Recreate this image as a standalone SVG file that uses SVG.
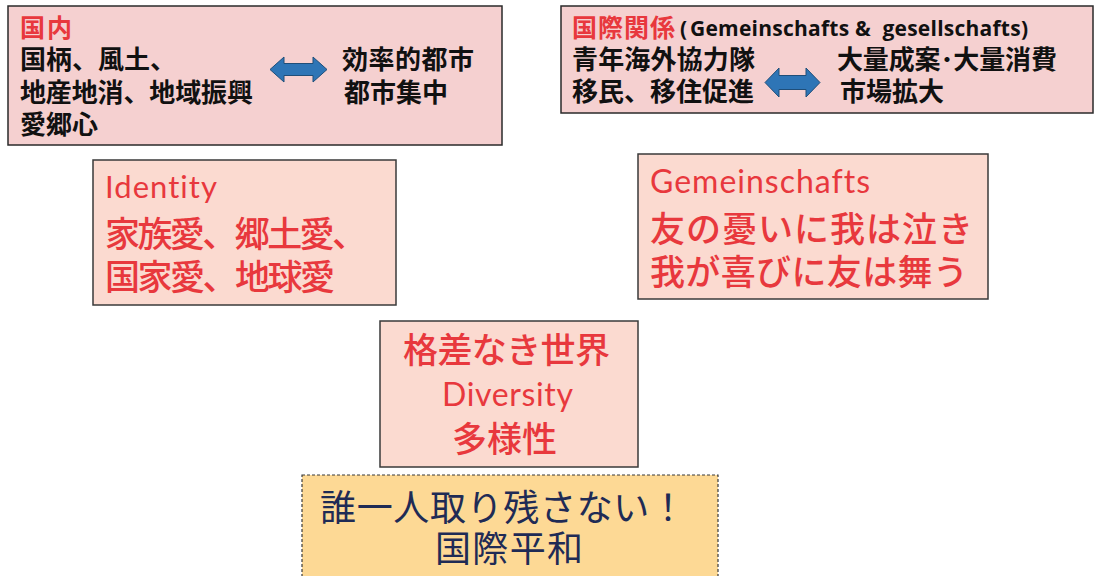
<svg xmlns="http://www.w3.org/2000/svg" width="1095" height="576" viewBox="0 0 1095 576">
<style>
.pink{fill:#f5d0d0;stroke:#2a2a2a;stroke-width:1.5}
.peach{fill:#fbdad0;stroke:#3a3a3a;stroke-width:1.5}
.gold{fill:#fdd995;stroke:#3a3a3a;stroke-width:1.2;stroke-dasharray:3 2}
.jb{font-family:"Noto Sans CJK JP","Noto Sans",sans-serif;font-weight:700;font-size:26px;fill:#111}
.rb{font-family:"Noto Sans CJK JP","Noto Sans",sans-serif;font-weight:700;font-size:25px;fill:#e8383d}
.eb{font-family:"Open Sans","Noto Sans",sans-serif;font-weight:700;font-size:21px;fill:#111;white-space:pre}
.rl{font-family:"Noto Sans CJK JP","Noto Sans",sans-serif;font-weight:500;fill:#e8383d}
.re{font-family:Lato,"Noto Sans",sans-serif;font-weight:400;fill:#e8383d;font-variant-ligatures:none}
.nv{font-family:"Noto Sans CJK JP","Noto Sans",sans-serif;font-weight:400;font-size:36px;fill:#1f2b55}
.arr{fill:#2e75b6;stroke:#1f4e79;stroke-width:1}
</style>
<g id="domestic">
<rect class="pink" x="8" y="6" width="494" height="139"/>
<text class="rb" x="20" y="37" textLength="52">国内</text>
<text class="jb" x="20" y="69" textLength="156">国柄、風土、</text>
<text class="jb" x="20" y="102" textLength="233">地産地消、地域振興</text>
<text class="jb" x="20" y="134" textLength="78">愛郷心</text>
<text class="jb" x="342" y="69" textLength="132">効率的都市</text>
<text class="jb" x="344" y="102" textLength="104">都市集中</text>
</g>
<g id="international">
<rect class="pink" x="561" y="6" width="532" height="107"/>
<text class="rb" x="572" y="37" textLength="103">国際関係</text>
<text class="eb" x="680" y="36">(</text>
<text class="eb" x="690" y="36" textLength="338">Gemeinschafts &amp;  gesellschafts)</text>
<text class="jb" x="572" y="69" textLength="183">青年海外協力隊</text>
<text class="jb" x="572" y="101" textLength="182">移民、移住促進</text>
<text class="jb" x="837" y="69" textLength="220">大量成案･大量消費</text>
<text class="jb" x="840" y="101" textLength="104">市場拡大</text>
</g>
<g id="identity">
<rect class="peach" x="93" y="160" width="303" height="145"/>
<text class="re" x="105" y="198" font-size="31" textLength="112">Identity</text>
<text class="rl" x="105" y="247" font-size="35" textLength="262">家族愛、郷土愛、</text>
<text class="rl" x="105" y="290" font-size="35" textLength="230">国家愛、地球愛</text>
</g>
<g id="gemeinschafts">
<rect class="peach" x="638" y="154" width="350" height="145"/>
<text class="re" x="650" y="193" font-size="32" textLength="220">Gemeinschafts</text>
<text class="rl" x="650" y="242" font-size="35" textLength="323">友の憂いに我は泣き</text>
<text class="rl" x="650" y="285" font-size="35" textLength="318">我が喜びに友は舞う</text>
</g>
<g id="diversity">
<rect class="peach" x="380" y="321" width="258" height="146"/>
<text class="rl" x="403" y="363" font-size="35" textLength="207">格差なき世界</text>
<text class="re" x="442" y="406" font-size="32" textLength="131">Diversity</text>
<text class="rl" x="452" y="452" font-size="35" textLength="105">多様性</text>
</g>
<g id="peace">
<rect class="gold" x="302" y="475" width="416" height="110"/>
<text class="nv" x="320" y="521" textLength="366">誰一人取り残さない！</text>
<text class="nv" x="435" y="562" textLength="148">国際平和</text>
</g>
<g id="connectors">
<polygon class="arr" points="270,69.5 284,57 284,63.5 313,63.5 313,57 327,69.5 313,82 313,75.5 284,75.5 284,82"/>
<polygon class="arr" points="765,82.5 779,68 779,75.5 806,75.5 806,68 820,82.5 806,97 806,89.5 779,89.5 779,97"/>
</g>
</svg>
